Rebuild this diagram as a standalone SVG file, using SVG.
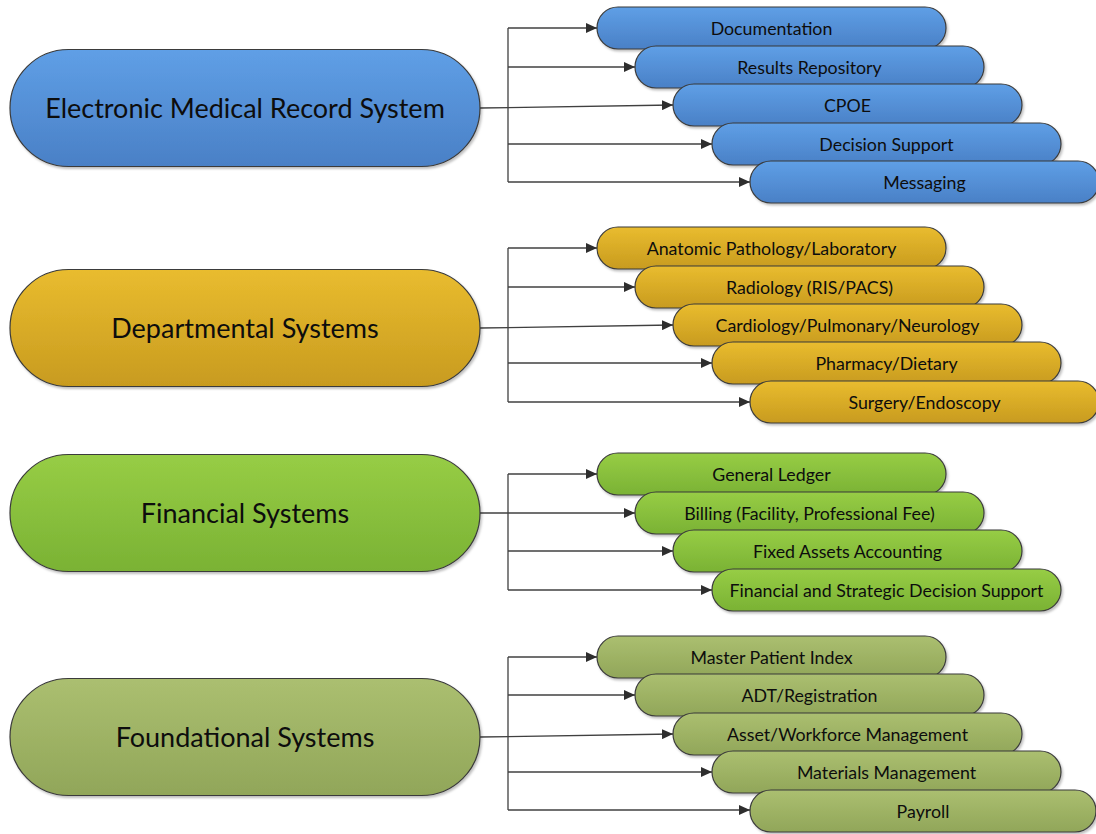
<svg xmlns="http://www.w3.org/2000/svg" width="1096" height="834" viewBox="0 0 1096 834">
<defs>
<linearGradient id="gBlue" x1="0" y1="0" x2="0" y2="1"><stop offset="0" stop-color="#5f9fe6"/><stop offset="1" stop-color="#4a80c6"/></linearGradient>
<linearGradient id="gGold" x1="0" y1="0" x2="0" y2="1"><stop offset="0" stop-color="#e9bc2f"/><stop offset="1" stop-color="#c89b1f"/></linearGradient>
<linearGradient id="gGreen" x1="0" y1="0" x2="0" y2="1"><stop offset="0" stop-color="#97cd45"/><stop offset="1" stop-color="#7ab234"/></linearGradient>
<linearGradient id="gOlive" x1="0" y1="0" x2="0" y2="1"><stop offset="0" stop-color="#abbf70"/><stop offset="1" stop-color="#91a659"/></linearGradient>
<filter id="sh" x="-5%" y="-10%" width="110%" height="130%"><feDropShadow dx="1.5" dy="2" stdDeviation="1.2" flood-color="#000" flood-opacity="0.25"/></filter>
<marker id="arr" markerUnits="userSpaceOnUse" markerWidth="12" markerHeight="10" refX="11" refY="5" orient="auto"><path d="M0,0 L11,5 L0,10 z" fill="#2e2e2e"/></marker>
</defs>
<style>
.pill{stroke:#3a3a3a;stroke-width:1.2;filter:url(#sh)}
.blue{fill:url(#gBlue)}.gold{fill:url(#gGold)}.green{fill:url(#gGreen)}.olive{fill:url(#gOlive)}
.main{font-family:Lato,"Open Sans",sans-serif;font-size:27px;fill:#0d0d0d;text-anchor:middle}
.sub{font-family:Lato,"Open Sans",sans-serif;font-size:17.8px;fill:#0d0d0d;text-anchor:middle}
.c{fill:none;stroke:#404040;stroke-width:1.3}
.a{fill:none;stroke:#404040;stroke-width:1.3;marker-end:url(#arr)}
</style>
<rect width="1096" height="834" fill="#fff"/>
<g id="connectors">
<path class="c" d="M508,28 V182"/>
<path class="a" d="M508,28 H597"/><path class="a" d="M508,67 H635"/><path class="a" d="M480,108 L673,105"/><path class="a" d="M508,144 H712"/><path class="a" d="M508,182 H750"/>
<path class="c" d="M508,248 V402"/>
<path class="a" d="M508,248 H597"/><path class="a" d="M508,287 H635"/><path class="a" d="M480,328 L673,325"/><path class="a" d="M508,363 H712"/><path class="a" d="M508,402 H750"/>
<path class="c" d="M508,474 V590"/>
<path class="a" d="M508,474 H597"/><path class="a" d="M480,513 H635"/><path class="a" d="M508,551 H673"/><path class="a" d="M508,590 H712"/>
<path class="c" d="M508,657 V810"/>
<path class="a" d="M508,657 H597"/><path class="a" d="M508,695 H635"/><path class="a" d="M480,737 L673,734"/><path class="a" d="M508,772 H712"/><path class="a" d="M508,810 H750"/>
</g>
<g id="emr"><rect class="pill blue" x="10" y="49.5" width="470" height="117" rx="58.5"/><text class="main" x="245" y="117.5">Electronic Medical Record System</text></g>
<g id="emr-doc"><rect class="pill blue" x="597" y="7" width="349" height="42" rx="21"/><text class="sub" x="771.5" y="34.5">Documentation</text></g>
<g id="emr-res"><rect class="pill blue" x="635" y="46" width="349" height="42" rx="21"/><text class="sub" x="809.5" y="73.5">Results Repository</text></g>
<g id="emr-cpoe"><rect class="pill blue" x="673" y="84" width="349" height="42" rx="21"/><text class="sub" x="847.5" y="111.5">CPOE</text></g>
<g id="emr-ds"><rect class="pill blue" x="712" y="123" width="349" height="42" rx="21"/><text class="sub" x="886.5" y="150.5">Decision Support</text></g>
<g id="emr-msg"><rect class="pill blue" x="750" y="161" width="349" height="42" rx="21"/><text class="sub" x="924.5" y="188.5">Messaging</text></g>

<g id="dept"><rect class="pill gold" x="10" y="269.5" width="470" height="117" rx="58.5"/><text class="main" x="245" y="337.5">Departmental Systems</text></g>
<g id="dept-ap"><rect class="pill gold" x="597" y="227" width="349" height="42" rx="21"/><text class="sub" x="771.5" y="254.5">Anatomic Pathology/Laboratory</text></g>
<g id="dept-rad"><rect class="pill gold" x="635" y="266" width="349" height="42" rx="21"/><text class="sub" x="809.5" y="293.5">Radiology (RIS/PACS)</text></g>
<g id="dept-card"><rect class="pill gold" x="673" y="304" width="349" height="42" rx="21"/><text class="sub" x="847.5" y="331.5">Cardiology/Pulmonary/Neurology</text></g>
<g id="dept-ph"><rect class="pill gold" x="712" y="342" width="349" height="42" rx="21"/><text class="sub" x="886.5" y="369.5">Pharmacy/Dietary</text></g>
<g id="dept-surg"><rect class="pill gold" x="750" y="381" width="349" height="42" rx="21"/><text class="sub" x="924.5" y="408.5">Surgery/Endoscopy</text></g>

<g id="fin"><rect class="pill green" x="10" y="454.5" width="470" height="117" rx="58.5"/><text class="main" x="245" y="522.5">Financial Systems</text></g>
<g id="fin-gl"><rect class="pill green" x="597" y="453" width="349" height="42" rx="21"/><text class="sub" x="771.5" y="480.5">General Ledger</text></g>
<g id="fin-bill"><rect class="pill green" x="635" y="492" width="349" height="42" rx="21"/><text class="sub" x="809.5" y="519.5">Billing (Facility, Professional Fee)</text></g>
<g id="fin-fa"><rect class="pill green" x="673" y="530" width="349" height="42" rx="21"/><text class="sub" x="847.5" y="557.5">Fixed Assets Accounting</text></g>
<g id="fin-fsds"><rect class="pill green" x="712" y="569" width="349" height="42" rx="21"/><text class="sub" x="886.5" y="596.5">Financial and Strategic Decision Support</text></g>

<g id="found"><rect class="pill olive" x="10" y="678.5" width="470" height="117" rx="58.5"/><text class="main" x="245" y="746.5">Foundational Systems</text></g>
<g id="found-mpi"><rect class="pill olive" x="597" y="636" width="349" height="42" rx="21"/><text class="sub" x="771.5" y="663.5">Master Patient Index</text></g>
<g id="found-adt"><rect class="pill olive" x="635" y="674" width="349" height="42" rx="21"/><text class="sub" x="809.5" y="701.5">ADT/Registration</text></g>
<g id="found-awm"><rect class="pill olive" x="673" y="713" width="349" height="42" rx="21"/><text class="sub" x="847.5" y="740.5">Asset/Workforce Management</text></g>
<g id="found-mm"><rect class="pill olive" x="712" y="751" width="349" height="42" rx="21"/><text class="sub" x="886.5" y="778.5">Materials Management</text></g>
<g id="found-pay"><rect class="pill olive" x="750" y="790" width="346" height="42" rx="21"/><text class="sub" x="923" y="817.5">Payroll</text></g>
</svg>
